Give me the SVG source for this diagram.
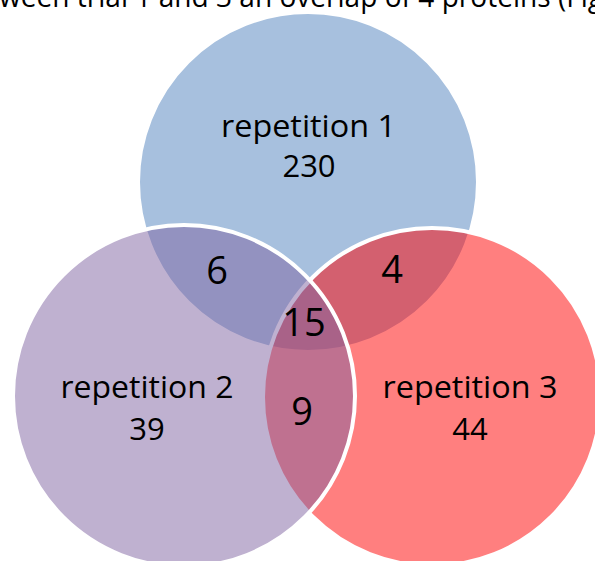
<svg xmlns="http://www.w3.org/2000/svg" width="595" height="561" viewBox="0 0 595 561">
  <style>
    .c { stroke: #FFFFFF; stroke-width: 4; fill-opacity: 0.5; }
    .lbl { font-family: "Open Sans", "Noto Sans", sans-serif; font-size: 31px; fill: #000000; text-anchor: middle; }
    .num { font-family: "Open Sans", "Noto Sans", sans-serif; font-size: 38px; fill: #000000; text-anchor: middle; }
    .cap { font-family: "Open Sans", "Noto Sans", sans-serif; font-size: 29px; fill: #000000; }
  </style>
  <rect width="595" height="561" fill="#FFFFFF"/>
  <text class="cap" x="-1" y="7" textLength="604" lengthAdjust="spacingAndGlyphs">ween trial 1 and 3 an overlap of 4 proteins (Fig</text>
  <g id="repetition1">
    <circle class="c" cx="308" cy="182" r="170" fill="#4F81BD"/>
  </g>
  <g id="repetition3">
    <circle class="c" cx="432" cy="397" r="169" fill="#FF0000"/>
  </g>
  <g id="repetition2">
    <circle class="c" cx="184" cy="396" r="171" fill="#8064A2"/>
  </g>
  <g id="labels">
    <text class="lbl" x="308.5" y="137" textLength="175" lengthAdjust="spacingAndGlyphs">repetition 1</text>
    <text class="lbl" x="309" y="177">230</text>
    <text class="lbl" x="147" y="398" textLength="173" lengthAdjust="spacingAndGlyphs">repetition 2</text>
    <text class="lbl" x="147" y="440">39</text>
    <text class="lbl" x="470" y="398" textLength="175" lengthAdjust="spacingAndGlyphs">repetition 3</text>
    <text class="lbl" x="470" y="440">44</text>
    <text class="num" x="217" y="284">6</text>
    <text class="num" x="392" y="283">4</text>
    <text class="num" x="304" y="336">15</text>
    <text class="num" x="302" y="425">9</text>
  </g>
</svg>
